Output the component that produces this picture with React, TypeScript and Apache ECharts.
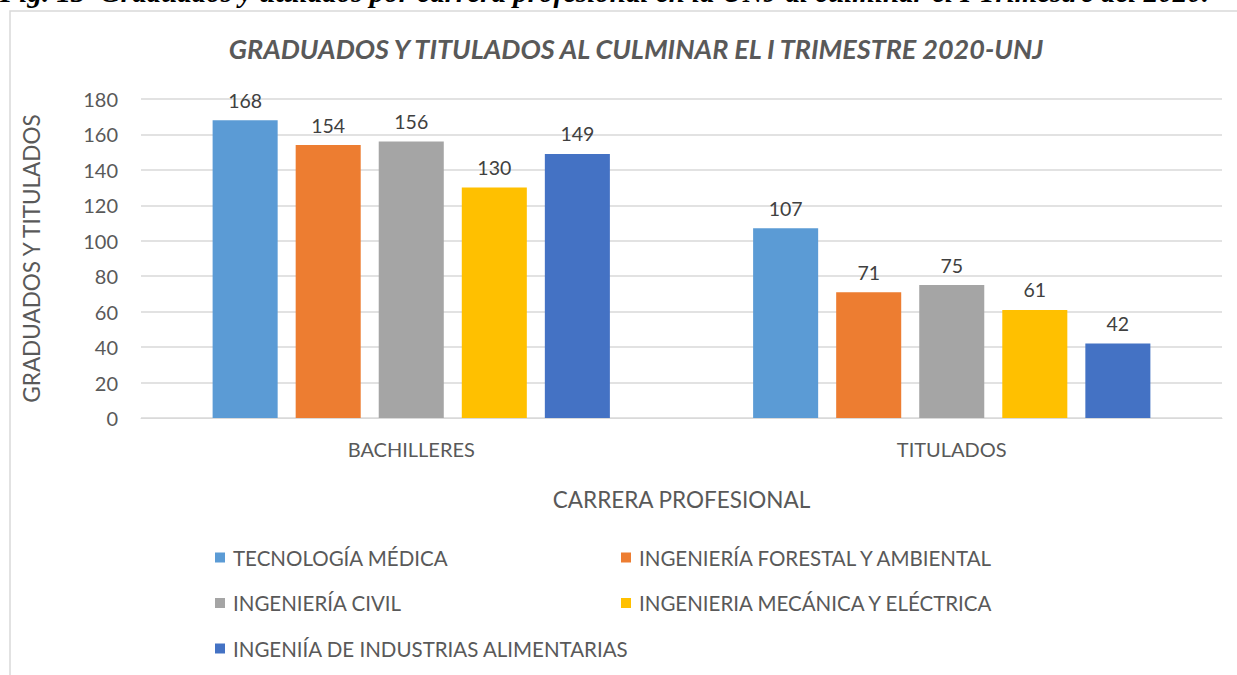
import React, { useEffect, useRef } from "react";
import * as echarts from "echarts";

const categories = ["BACHILLERES", "TITULADOS"];
const seriesNames = [
  "TECNOLOGÍA MÉDICA",
  "INGENIERÍA FORESTAL Y AMBIENTAL",
  "INGENIERÍA CIVIL",
  "INGENIERIA MECÁNICA Y ELÉCTRICA",
  "INGENIÍA DE INDUSTRIAS ALIMENTARIAS",
];
const tecnologiaMedica = [168, 107];
const forestalAmbiental = [154, 71];
const civil = [156, 75];
const mecanicaElectrica = [130, 61];
const industriasAlimentarias = [149, 42];
const seriesValues = [tecnologiaMedica, forestalAmbiental, civil, mecanicaElectrica, industriasAlimentarias];
const colors = ["#5B9BD5", "#ED7D31", "#A5A5A5", "#FFC000", "#4472C4"];
const yTicks = { min: 0, max: 180, interval: 20 };

const FONT = "Lato";

const legendCommon = {
  orient: "vertical",
  itemWidth: 10,
  itemHeight: 10,
  itemGap: 24.5,
  icon: "rect",
  textStyle: { fontFamily: FONT, fontSize: 20.5, color: "#595959", padding: [0, 0, 0, 3] },
};

export default function App() {
  const ref = useRef<HTMLDivElement>(null);
  useEffect(() => {
    if (!ref.current) return;
    const chart = echarts.init(ref.current, null, { renderer: "svg" });
    chart.setOption({
      animation: false,
      backgroundColor: "#fff",
      title: {
        text: "GRADUADOS Y TITULADOS AL CULMINAR EL I TRIMESTRE 2020-UNJ",
        left: 631,
        top: 30,
        textAlign: "center",
        textStyle: { fontFamily: FONT, fontSize: 27, fontWeight: "bold", fontStyle: "italic", color: "#595959" },
      },
      graphic: [
        {
          type: "rect",
          shape: { x: 10, y: 11, width: 1400, height: 800 },
          style: { fill: "none", stroke: "#d9d9d9", lineWidth: 1.5 },
          silent: true,
        },
        {
          type: "text",
          x: 0,
          y: 6,
          style: {
            text: "Fig. 13  Graduados y titulados por carrera profesional en la UNJ al culminar el I Trimestre del 2020.",
            font: "italic bold 29px 'Liberation Serif'",
            fill: "#000",
            textVerticalAlign: "bottom",
          },
        },
      ],
      color: colors,
      grid: { left: 141, right: 15, top: 99, bottom: 257, containLabel: false },
      legend: [
        { ...legendCommon, left: 210, top: 542, data: [seriesNames[0], seriesNames[2], seriesNames[4]] },
        { ...legendCommon, left: 616, top: 542, data: [seriesNames[1], seriesNames[3]] },
      ],
      xAxis: {
        type: "category",
        data: categories,
        name: "CARRERA PROFESIONAL",
        nameLocation: "middle",
        nameGap: 70,
        nameTextStyle: { fontFamily: FONT, fontSize: 22.5, color: "#595959" },
        axisLine: { lineStyle: { color: "#d9d9d9" } },
        axisTick: { show: false },
        axisLabel: { fontFamily: FONT, fontSize: 20, color: "#595959", margin: 21 },
      },
      yAxis: {
        type: "value",
        min: yTicks.min,
        max: yTicks.max,
        interval: yTicks.interval,
        name: "GRADUADOS Y TITULADOS",
        nameLocation: "middle",
        nameGap: 98,
        nameTextStyle: { fontFamily: FONT, fontSize: 22.5, color: "#595959" },
        axisLine: { show: false },
        axisTick: { show: false },
        axisLabel: { fontFamily: FONT, fontSize: 20, color: "#595959", margin: 23 },
        splitLine: { lineStyle: { color: "#d9d9d9", width: 1.5 } },
      },
      series: seriesValues.map((vals, i) => ({
        type: "bar",
        name: seriesNames[i],
        data: vals,
        barGap: "27.7%",
        barCategoryGap: "26.5%",
        label: {
          show: true,
          position: "top",
          distance: 10,
          fontFamily: FONT,
          fontSize: 19.5,
          color: "#404040",
        },
      })),
    });
    return () => chart.dispose();
  }, []);
  return <div ref={ref} style={{ position: "fixed", left: 0, top: 0, width: 1237, height: 675 }} />;
}
